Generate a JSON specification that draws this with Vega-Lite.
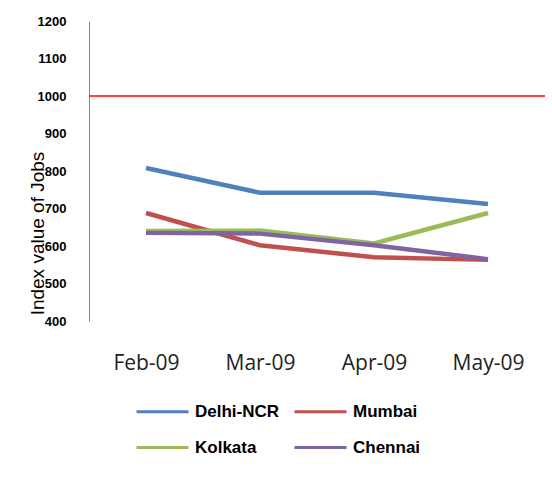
{
  "$schema": "https://vega.github.io/schema/vega-lite/v6.json",
  "autosize": {"type": "none"},
  "width": 456,
  "height": 300,
  "padding": {"left": 89, "top": 21, "right": 7, "bottom": 160},
  "background": "white",
  "config": {
    "view": {"stroke": null},
    "axisY": {
      "labelOverlap": false,
      "labelSeparation": 0,
      "labelBound": false,
      "labelFlush": false
    }
  },
  "data": {
    "values": [
      {"month": "Feb-09", "city": "Delhi-NCR", "value": 808},
      {"month": "Mar-09", "city": "Delhi-NCR", "value": 742},
      {"month": "Apr-09", "city": "Delhi-NCR", "value": 742},
      {"month": "May-09", "city": "Delhi-NCR", "value": 712},
      {"month": "Feb-09", "city": "Mumbai", "value": 688},
      {"month": "Mar-09", "city": "Mumbai", "value": 602},
      {"month": "Apr-09", "city": "Mumbai", "value": 570},
      {"month": "May-09", "city": "Mumbai", "value": 563},
      {"month": "Feb-09", "city": "Kolkata", "value": 640},
      {"month": "Mar-09", "city": "Kolkata", "value": 641},
      {"month": "Apr-09", "city": "Kolkata", "value": 607},
      {"month": "May-09", "city": "Kolkata", "value": 688},
      {"month": "Feb-09", "city": "Chennai", "value": 635},
      {"month": "Mar-09", "city": "Chennai", "value": 633},
      {"month": "Apr-09", "city": "Chennai", "value": 602},
      {"month": "May-09", "city": "Chennai", "value": 565}
    ]
  },
  "encoding": {
    "y": {
      "field": "value",
      "type": "quantitative",
      "scale": {"domain": [400, 1200], "nice": false, "zero": false},
      "axis": {
        "title": "Index value of Jobs",
        "titleFont": "Liberation Sans",
        "titleFontSize": 19,
        "titleFontWeight": "normal",
        "titleColor": "#000",
        "titleX": -52,
        "titleY": 212,
        "titleAngle": -90,
        "titleAlign": "center",
        "titleBaseline": "middle",
        "values": [400, 500, 600, 700, 800, 900, 1000, 1100, 1200],
        "format": "d",
        "labelOverlap": false,
        "grid": false,
        "ticks": false,
        "domainColor": "#888",
        "labelFont": "Liberation Sans",
        "labelFontSize": 13,
        "labelFontWeight": "bold",
        "labelColor": "#000",
        "labelPadding": 23
      }
    }
  },
  "layer": [
    {
      "mark": {"type": "line", "strokeWidth": 4.5, "strokeCap": "butt"},
      "encoding": {
        "x": {
          "field": "month",
          "type": "ordinal",
          "sort": ["Feb-09", "Mar-09", "Apr-09", "May-09"],
          "scale": {"type": "point", "padding": 0.5},
          "axis": {
            "title": null,
            "domain": false,
            "ticks": false,
            "labelAngle": 0,
            "labelFont": "Open Sans",
            "labelFontSize": 21,
            "labelColor": "#222",
            "labelPadding": 31
          }
        },
        "color": {
          "field": "city",
          "type": "nominal",
          "scale": {
            "domain": ["Delhi-NCR", "Mumbai", "Kolkata", "Chennai"],
            "range": ["#4F81BD", "#C0504D", "#9BBB59", "#8064A2"]
          },
          "legend": {
            "title": null,
            "orient": "none",
            "direction": "horizontal",
            "legendX": 46,
            "legendY": 363,
            "columns": 2,
            "columnPadding": 8,
            "rowPadding": 0,
            "symbolType": "stroke",
            "symbolSize": 2704,
            "symbolStrokeWidth": 3,
            "labelOffset": 5,
            "labelFont": "Liberation Sans",
            "labelFontSize": 17,
            "labelFontWeight": "bold",
            "labelColor": "#000"
          }
        }
      }
    },
    {
      "data": {"values": [{"value": 1000}]},
      "mark": {"type": "rule", "color": "#FF0000", "strokeWidth": 1.5},
      "encoding": {}
    }
  ]
}
